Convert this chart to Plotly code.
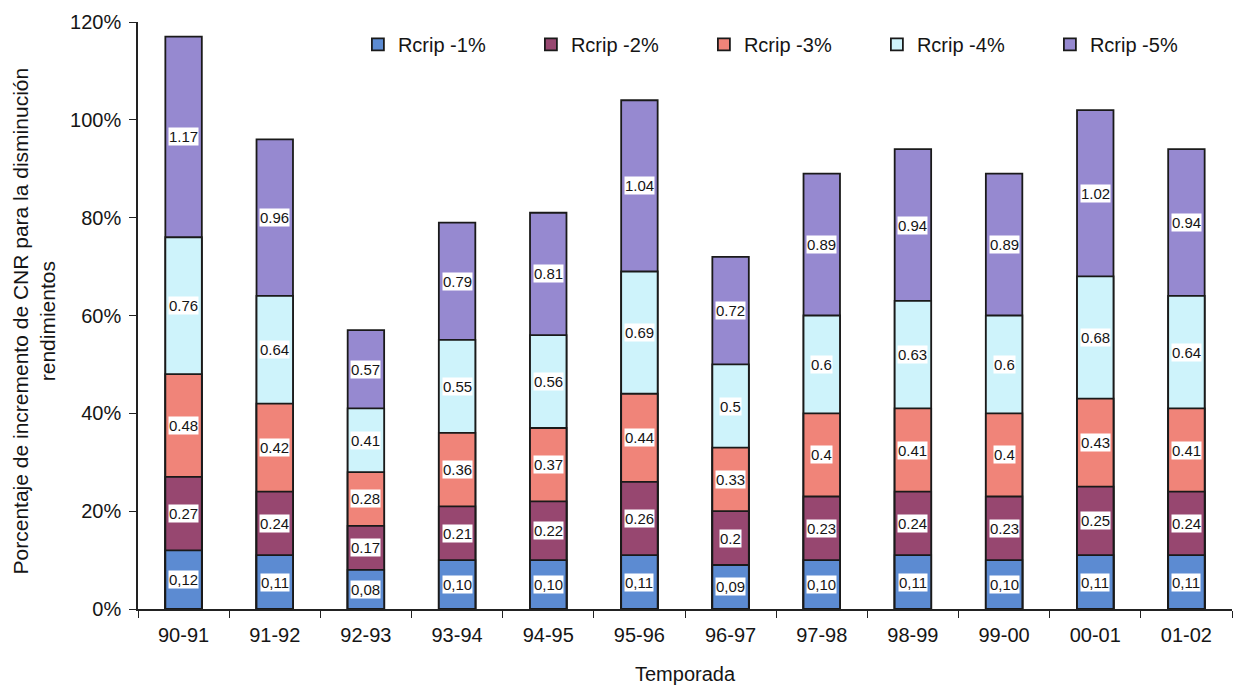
import plotly.graph_objects as go

# Seasons on the x axis
temporadas = ["90-91", "91-92", "92-93", "93-94", "94-95", "95-96",
              "96-97", "97-98", "98-99", "99-00", "00-01", "01-02"]

# Relative CNR increase for each yield reduction scenario (fraction)
rcrip_1 = [0.12, 0.11, 0.08, 0.10, 0.10, 0.11, 0.09, 0.10, 0.11, 0.10, 0.11, 0.11]
rcrip_2 = [0.27, 0.24, 0.17, 0.21, 0.22, 0.26, 0.20, 0.23, 0.24, 0.23, 0.25, 0.24]
rcrip_3 = [0.48, 0.42, 0.28, 0.36, 0.37, 0.44, 0.33, 0.40, 0.41, 0.40, 0.43, 0.41]
rcrip_4 = [0.76, 0.64, 0.41, 0.55, 0.56, 0.69, 0.50, 0.60, 0.63, 0.60, 0.68, 0.64]
rcrip_5 = [1.17, 0.96, 0.57, 0.79, 0.81, 1.04, 0.72, 0.89, 0.94, 0.89, 1.02, 0.94]

# Value labels as printed on the bars
etiq_1 = ["0,12", "0,11", "0,08", "0,10", "0,10", "0,11", "0,09", "0,10", "0,11", "0,10", "0,11", "0,11"]
etiq_2 = ["0.27", "0.24", "0.17", "0.21", "0.22", "0.26", "0.2", "0.23", "0.24", "0.23", "0.25", "0.24"]
etiq_3 = ["0.48", "0.42", "0.28", "0.36", "0.37", "0.44", "0.33", "0.4", "0.41", "0.4", "0.43", "0.41"]
etiq_4 = ["0.76", "0.64", "0.41", "0.55", "0.56", "0.69", "0.5", "0.6", "0.63", "0.6", "0.68", "0.64"]
etiq_5 = ["1.17", "0.96", "0.57", "0.79", "0.81", "1.04", "0.72", "0.89", "0.94", "0.89", "1.02", "0.94"]

nombres = ["Rcrip -1%", "Rcrip -2%", "Rcrip -3%", "Rcrip -4%", "Rcrip -5%"]
series = [rcrip_1, rcrip_2, rcrip_3, rcrip_4, rcrip_5]
etiquetas = [etiq_1, etiq_2, etiq_3, etiq_4, etiq_5]
colores = ["#5C8BD2", "#974770", "#F08479", "#CEF3FB", "#9689D0"]

FONT = "Liberation Sans, Arial, sans-serif"
INK = "#151515"

fig = go.Figure()

# Overlaid bars: the largest scenario goes at the back, the smallest in front
for nombre, vals, color in reversed(list(zip(nombres, series, colores))):
    fig.add_trace(go.Bar(
        x=temporadas, y=vals, name=nombre,
        marker=dict(color=color, line=dict(color="#1a1a1a", width=1.8)),
        hoverinfo="x+y+name",
    ))

# White-boxed labels centred on each visible band
anotaciones = []
for k, (vals, labs) in enumerate(zip(series, etiquetas)):
    prev = series[k - 1] if k > 0 else [0.0] * len(vals)
    for cat, lo, hi, txt in zip(temporadas, prev, vals, labs):
        anotaciones.append(dict(
            x=cat, y=(lo + hi) / 2, xref="x", yref="y", text=txt,
            showarrow=False, bgcolor="white", borderpad=0,
            font=dict(family=FONT, size=15, color=INK),
        ))

# Y axis title (two lines, rotated)
anotaciones.append(dict(
    x=-0.095, y=0.49, xref="paper", yref="paper",
    text="Porcentaje de incremento de CNR para la disminución<br>rendimientos",
    textangle=-90, showarrow=False, xanchor="center", yanchor="middle",
    font=dict(family=FONT, size=21, color=INK),
))

fig.update_layout(
    width=1235, height=688,
    margin=dict(l=138, r=3, t=22, b=79),
    barmode="overlay", bargap=0.6,
    paper_bgcolor="white", plot_bgcolor="white",
    font=dict(family=FONT, color=INK),
    showlegend=True,
    legend=dict(
        orientation="h", traceorder="reversed",
        x=0.201, y=0.962, xanchor="left", yanchor="middle",
        font=dict(family=FONT, size=20, color=INK),
        entrywidth=128, entrywidthmode="pixels",
        bgcolor="rgba(0,0,0,0)",
    ),
    annotations=anotaciones,
)

fig.update_xaxes(
    type="category", showline=True, linecolor="#222222", linewidth=1.5,
    ticks="outside", tickson="boundaries", ticklen=7, tickcolor="#222222",
    tickfont=dict(family=FONT, size=20, color=INK), ticklabelstandoff=7,
    title=dict(text="Temporada", standoff=22,
               font=dict(family=FONT, size=20, color=INK)),
    showgrid=False, zeroline=False,
)
fig.update_yaxes(
    range=[0, 1.2], dtick=0.2, tickformat=".0%",
    showline=True, linecolor="#222222", linewidth=1.5,
    ticks="outside", ticklen=7, tickcolor="#222222",
    tickfont=dict(family=FONT, size=20, color=INK), ticklabelstandoff=4,
    showgrid=False, zeroline=False,
)

fig.write_html("out.html")
